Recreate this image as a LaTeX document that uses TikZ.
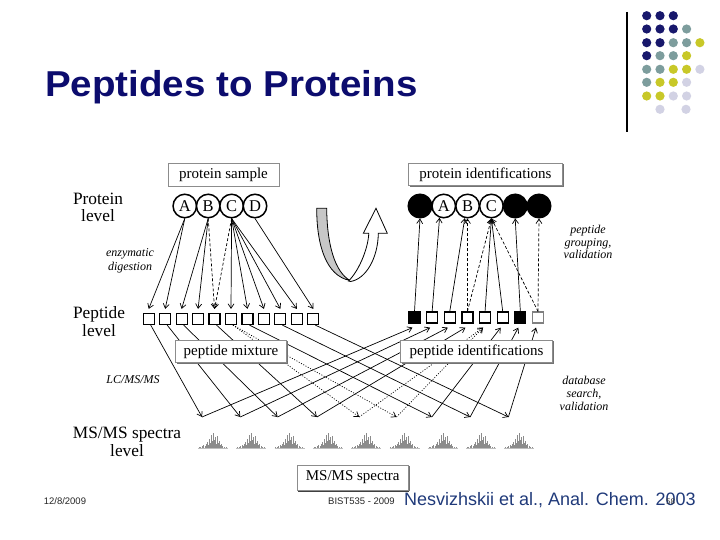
\documentclass[tikz,border=0pt]{standalone}
\usepackage{fontspec}
\setmainfont{Liberation Serif}
\newfontfamily\arialf{Liberation Sans}
\usetikzlibrary{arrows.meta,shadows}
\definecolor{titlenavy}{RGB}{12,12,110}
\definecolor{footblue}{RGB}{32,58,122}
\definecolor{dotnavy}{RGB}{24,24,108}
\definecolor{dotteal}{RGB}{125,157,157}
\definecolor{dotyel}{RGB}{200,200,40}
\definecolor{dotlav}{RGB}{210,210,228}
\tikzset{
  ar/.style={line width=0.7pt,-{Straight Barb[length=4.5pt,width=6pt]}},
  dsh/.style={dash pattern=on 3pt off 2pt},
  dtt/.style={dash pattern=on 1pt off 1.6pt},
  lbl/.style={draw=black!45, line width=0.7pt, fill=white, inner sep=0pt,
    font=\fontsize{15}{15}\selectfont,
    drop shadow={shadow xshift=1.2pt, shadow yshift=-1.2pt, fill=black!55, opacity=1}},
  pc/.style={circle, draw, line width=1.5pt, fill=white, minimum size=23.5pt, inner sep=0pt, font=\fontsize{16.5}{16.5}\selectfont},
  bc/.style={pc, fill=black},
  sq/.style={draw, line width=1.2pt, minimum size=11pt, inner sep=0pt, fill=white},
  lev/.style={anchor=base, inner sep=0pt, font=\fontsize{17.3}{17.3}\selectfont},
  smalltxt/.style={anchor=base, inner sep=0pt, font=\itshape\fontsize{12}{12}\selectfont},
  spectrum/.pic={
    \draw[black!25, line width=0.4pt] (0,0) -- (30,0);
    \foreach \x/\h in {1/1,2.5/1.5,4/2,5.5/3,7/2.5,8/4,9/6,10/3.5,11/9,12/5,13/13,14/7,15/15,16/8,17/11,18/4,19/12,20/5,21/7,22/3,23/4,24.5/2,26/1.5,28/1}
      \draw[black!45, line width=0.4pt] (\x,0) -- (\x,-\h);
  }
}
\begin{document}
\begin{tikzpicture}[x=1pt,y=-1pt]
\useasboundingbox (0,0) rectangle (720,540);
\fill[white] (0,0) rectangle (720,540);

% title
\node[anchor=base west, inner sep=0pt, text=titlenavy, font=\arialf\bfseries\fontsize{36}{36}\selectfont] (title) at (45,96.7) {\scalebox{1.07}[1]{Peptides to Proteins}};

% decoration top right
\draw[line width=1.2pt] (627,12) -- (627,132);
\foreach \col [count=\c from 0] in {dotnavy,dotnavy,dotnavy} \fill[\col] ({646.7+13.3*\c},15.7) circle (4.6pt);
\foreach \col [count=\c from 0] in {dotnavy,dotnavy,dotnavy,dotteal} \fill[\col] ({646.7+13.3*\c},29) circle (4.6pt);
\foreach \col [count=\c from 0] in {dotnavy,dotnavy,dotteal,dotteal,dotyel} \fill[\col] ({646.7+13.3*\c},42.7) circle (4.6pt);
\foreach \col [count=\c from 0] in {dotnavy,dotteal,dotteal,dotyel} \fill[\col] ({646.7+13.3*\c},55.7) circle (4.6pt);
\foreach \col [count=\c from 0] in {dotteal,dotteal,dotyel,dotyel,dotlav} \fill[\col] ({646.7+13.3*\c},69.3) circle (4.6pt);
\foreach \col [count=\c from 0] in {dotteal,dotyel,dotyel,dotlav} \fill[\col] ({646.7+13.3*\c},82.3) circle (4.6pt);
\foreach \col [count=\c from 0] in {dotyel,dotyel,dotlav,dotlav} \fill[\col] ({646.7+13.3*\c},96) circle (4.6pt);
\fill[dotlav] (660,109.3) circle (4.6pt);
\fill[dotlav] (686,109.3) circle (4.6pt);

% level labels
\node[lev] (tPr1) at (98,204.5) {Protein};
\node[lev] (tPr2) at (98,221.5) {level};
\node[lev] (tPe1) at (99,318.7) {Peptide};
\node[lev] (tPe2) at (99,336.5) {level};
\node[lev] (tMS1) at (127,438.8) {MS/MS spectra};
\node[lev] (tMS2) at (127,456.5) {level};

% italic notes
\node[smalltxt] (n1) at (130,256.5) {enzymatic};
\node[smalltxt] (n2) at (130,270) {digestion};
\node[smalltxt] (n3) at (133,383) {LC/MS/MS};
\node[smalltxt] (n4) at (588,233.5) {peptide};
\node[smalltxt] (n5) at (588,246) {grouping,};
\node[smalltxt] (n6) at (588,258.5) {validation};
\node[smalltxt] (n7) at (584,384) {database};
\node[smalltxt] (n8) at (584,397) {search,};
\node[smalltxt] (n9) at (584,410) {validation};

% protein circles
\node[pc] (pA) at (184.8,206) {A};
\node[pc] (pB) at (208.2,206) {B};
\node[pc] (pC) at (231.6,206) {C};
\node[pc] (pD) at (255,206) {D};

\node[bc] (q1) at (420,206) {};
\node[pc] (q2) at (443.8,206) {A};
\node[pc] (q3) at (467.6,206) {B};
\node[pc] (q4) at (491.4,206) {C};
\node[bc] (q5) at (515.2,206) {};
\node[bc] (q6) at (539,206) {};

% peptide boxes
\foreach \i in {0,...,10} \node[sq] (L\i) at ({148.7+16.46*\i},319) {};
\foreach \i in {0,...,7} \node[sq] (R\i) at ({414.5+17.64*\i},317.5) {};
\node[sq, fill=black] at (R0) {};
\node[sq, fill=black] at (R6) {};
\node[sq, draw=black!50] at (R7) {};

% digestion arrows
\draw[ar] (pA.south) -- ([yshift=4pt]L0.north);
\draw[ar] (pA.south) -- ([yshift=4pt]L1.north);
\draw[ar] (pB.south) -- ([yshift=4pt]L2.north);
\draw[ar] (pB.south) -- ([yshift=4pt]L3.north);
\draw[ar,dsh] (pB.south) -- ([yshift=4pt]L4.north);
\draw[ar,dsh] (pC.south) -- ([yshift=4pt]L4.north);
\draw[ar] (pC.south) -- ([yshift=4pt]L5.north);
\draw[ar] (pC.south) -- ([yshift=4pt]L6.north);
\draw[ar] (pC.south) -- ([yshift=4pt]L7.north);
\draw[ar] (pC.south) -- ([yshift=4pt]L8.north);
\draw[ar] (pC.south) -- ([yshift=4pt]L9.north);
\draw[ar] (pD.south) -- ([yshift=4pt]L10.north);

% grouping arrows
\draw[ar] (R0.north) -- (q1.south);
\draw[ar] (R1.north) -- (q2.250);
\draw[ar] (R2.north) -- (q3.257);
\draw[ar,dsh] (R3.north) -- (R3.north |- q3.south);
\draw[ar,dsh] (R3.north) -- (q4.south);
\draw[ar] (R4.north) -- (q4.south);
\draw[ar] (R5.north) -- (q4.south);
\draw[ar] (R6.north) -- (q5.south);
\draw[ar,dsh] (R7.north) -- (q6.south);
\draw[ar,dsh] (R7.north) -- (q4.south);

% spectra
\foreach \i in {0,...,8} \pic at ({198+38.3*\i},448) {spectrum};
\coordinate (T0) at (202,417);
\coordinate (T1) at (240.3,417);
\coordinate (T2) at (277.6,417);
\coordinate (T3) at (316.9,417);
\coordinate (T4) at (359.2,417);
\coordinate (T5) at (396.5,417);
\coordinate (T6) at (431.8,417);
\coordinate (T7) at (470.1,417);
\coordinate (T8) at (508.4,417);

% LC/MS/MS arrows
\draw[ar] ([xshift=2pt]L0.south) -- (T0);
\draw[ar] ([xshift=2pt]L1.south) -- (T1);
\draw[ar] ([xshift=2pt]L2.south) -- (T2);
\draw[ar] ([xshift=2pt]L4.south) -- (T3);
\draw[ar,dtt] ([xshift=2pt]L5.south) -- (T4);
\draw[ar,dtt] ([xshift=2pt]L5.south) -- (T5);
\draw[ar] ([xshift=2pt]L6.south) -- (T6);
\draw[ar] ([xshift=2pt]L8.south) -- (T7);
\draw[ar] ([xshift=2pt]L10.south) -- (T8);

% database search arrows
\draw[ar] (T0) -- ([xshift=-2pt,yshift=-4pt]R0.south);
\draw[ar] (T1) -- ([xshift=-2pt,yshift=-4pt]R1.south);
\draw[ar] (T2) -- ([xshift=-2pt,yshift=-4pt]R2.south);
\draw[ar] (T3) -- ([xshift=-2pt,yshift=-4pt]R3.south);
\draw[ar,dtt] (T4) -- ([xshift=-2pt,yshift=-4pt]R4.south);
\draw[ar,dtt] (T5) -- ([xshift=-2pt,yshift=-4pt]R4.south);
\draw[ar] (T6) -- ([xshift=-2pt,yshift=-4pt]R5.south);
\draw[ar] (T7) -- ([xshift=-2pt,yshift=-4pt]R6.south);
\draw[ar] (T8) -- ([xshift=-2pt,yshift=-4pt]R7.south);

% label boxes
\node[lbl, minimum width=111pt, minimum height=23pt] (ps) at (223.5,174.5) {protein sample};
\node[lbl, minimum width=154pt, minimum height=22.5pt] (pi) at (485.5,174.5) {protein identifications};
\node[lbl, minimum width=111pt, minimum height=22.7pt] (pm) at (231,351.4) {peptide mixture};
\node[lbl, minimum width=152pt, minimum height=22.7pt] (pid) at (476.6,351.4) {peptide identifications};
\node[lbl, minimum width=111.5pt, minimum height=25pt, drop shadow={shadow xshift=0.8pt, shadow yshift=-2.2pt, fill=black!75, opacity=1}] (ms) at (352.7,477.5) {MS/MS spectra};

% U-turn ribbon
\filldraw[fill=black!22, line width=0.8pt] (316.7,208.3) -- (326.7,208.3)
  .. controls (327,245) and (335,272) .. (350,280.5)
  .. controls (326,276) and (316.7,245) .. cycle;
\filldraw[fill=white, line width=0.8pt] (348.5,281)
  .. controls (358,272) and (368,250) .. (368.8,233.3)
  -- (363.3,233.3) -- (376,208.3) -- (387.3,233.3) -- (378.3,233.3)
  .. controls (378,258) and (366,279) .. (350.5,281.5) -- cycle;

% footer
\node[anchor=base west, inner sep=0pt, text=black!85, font=\arialf\fontsize{9.5}{9.5}\selectfont] (fdate) at (43.6,504.5) {12/8/2009};
\node[anchor=base west, inner sep=0pt, text=black!85, font=\arialf\fontsize{9.5}{9.5}\selectfont] (fcourse) at (328,504.5) {BIST535 - 2009};
\node[anchor=base west, inner sep=0pt, text=footblue, font=\arialf\fontsize{18}{18}\selectfont] (fref) at (404,505) {Nesvizhskii et al., Anal. Chem. 2003};
\node[anchor=base, inner sep=0pt, text=black!80, font=\arialf\fontsize{8}{8}\selectfont] (fpage) at (670.5,504) {58};
\end{tikzpicture}
\end{document}
